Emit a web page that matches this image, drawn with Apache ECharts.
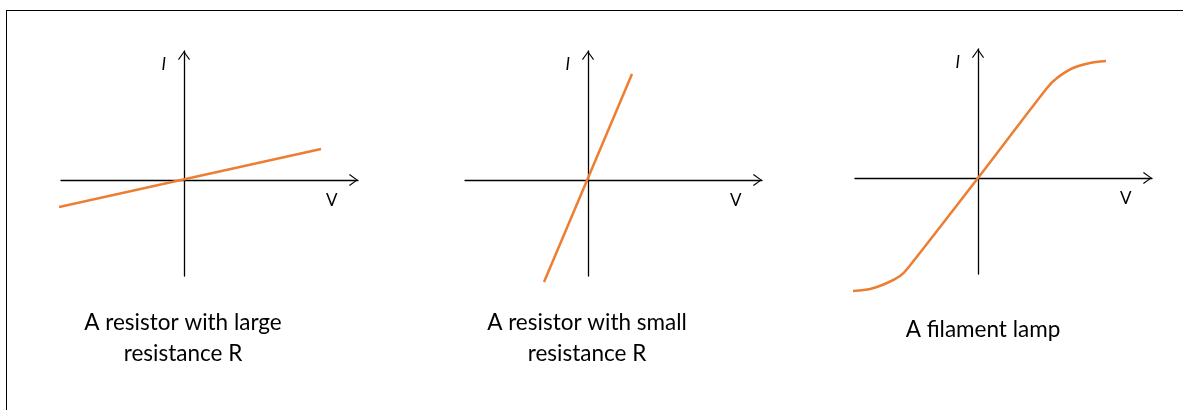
<!DOCTYPE html>
<html>
<head>
<meta charset="utf-8">
<script src="https://cdn.jsdelivr.net/npm/echarts@6/dist/echarts.min.js"></script>
<style>
  html, body { margin: 0; padding: 0; background: #fff; }
  #wrap { position: relative; width: 1183px; height: 410px; }
  #chart { position: absolute; left: 0; top: 0; width: 1183px; height: 410px; }
  #frame { position: absolute; left: 6px; top: 9.5px; width: 1200px; height: 420px;
           border-top: 1.5px solid #000; border-left: 1.5px solid #000; pointer-events: none; }
</style>
</head>
<body>
<div id="wrap">
  <div id="chart"></div>
  <div id="frame"></div>
</div>
<script>
// ---- data (V horizontal, I vertical, arbitrary units) ----
const captions = ['A resistor with large\nresistance R', 'A resistor with small\nresistance R', 'A filament lamp'];
const axisNameX = 'V';
const axisNameY = 'I';

const largeR_V = [-125, 137];
const largeR_I = [-27, 31];

const smallR_V = [-44, 44];
const smallR_I = [-102, 106];

const lamp_V = [-126, -108, -91, -78, -70, 0, 69, 79, 95, 112, 128];
const lamp_I = [-113, -111, -105, -98, -90, 0, 90, 100, 110, 115, 117];

const axisMinV = -123, axisMaxV = 174;
const axisMinI = -96, axisMaxI = 129;

function pairs(xs, ys) { return xs.map((x, i) => [x, ys[i]]); }

const seriesData = [pairs(largeR_V, largeR_I), pairs(smallR_V, smallR_I), pairs(lamp_V, lamp_I)];

// ---- layout ----
const gridLeft = [61, 465, 855];
const gridTop = [51, 51, 49];
const gridW = 297, gridH = 225;
const captionCenter = [183, 587, 983];
const captionTop = [307, 307, 314];

const arrowPath = 'path://M0,8.2 L6,0 L12,8.2 L11.1,8.9 L6,1.7 L0.9,8.9 Z';
const axisLine = {
  show: true, onZero: true,
  symbol: ['none', arrowPath],
  symbolSize: [12, 9],
  symbolOffset: [0, -4.5],
  lineStyle: { color: '#000', width: 1.3 }
};

const grids = [], xAxes = [], yAxes = [], series = [], titles = [];
for (let i = 0; i < 3; i++) {
  grids.push({ left: gridLeft[i], top: gridTop[i], width: gridW, height: gridH, containLabel: false });
  xAxes.push({
    type: 'value', gridIndex: i, min: axisMinV, max: axisMaxV,
    axisLine: axisLine, axisTick: { show: false }, axisLabel: { show: false }, splitLine: { show: false },
    name: axisNameX, nameLocation: 'end', nameGap: -32,
    nameTextStyle: { fontFamily: 'Lato', fontSize: 17, color: '#000', align: 'left', verticalAlign: 'top', lineHeight: 41 }
  });
  yAxes.push({
    type: 'value', gridIndex: i, min: axisMinI, max: axisMaxI,
    axisLine: axisLine, axisTick: { show: false }, axisLabel: { show: false }, splitLine: { show: false },
    name: axisNameY, nameLocation: 'end', nameGap: -14,
    nameTextStyle: { fontFamily: 'Lato', fontSize: 17, fontStyle: 'italic', color: '#000', align: 'right', verticalAlign: 'middle', padding: [0, 18, 0, 0] }
  });
  series.push({
    type: 'line', xAxisIndex: i, yAxisIndex: i, data: seriesData[i],
    showSymbol: false, symbol: 'none', clip: false, smooth: i === 2 ? 0.25 : false,
    lineStyle: { color: '#ED7D31', width: 2.5 }, silent: true, animation: false
  });
  titles.push({
    text: captions[i], left: captionCenter[i], top: captionTop[i], textAlign: 'center', padding: 0,
    textStyle: { fontFamily: 'Lato', fontSize: 22.5, fontWeight: 'normal', color: '#000', lineHeight: 31 }
  });
}

const chart = echarts.init(document.getElementById('chart'), null, { renderer: 'canvas' });
chart.setOption({
  backgroundColor: 'transparent',
  animation: false,
  title: titles,
  grid: grids,
  xAxis: xAxes,
  yAxis: yAxes,
  series: series
});
</script>
</body>
</html>
